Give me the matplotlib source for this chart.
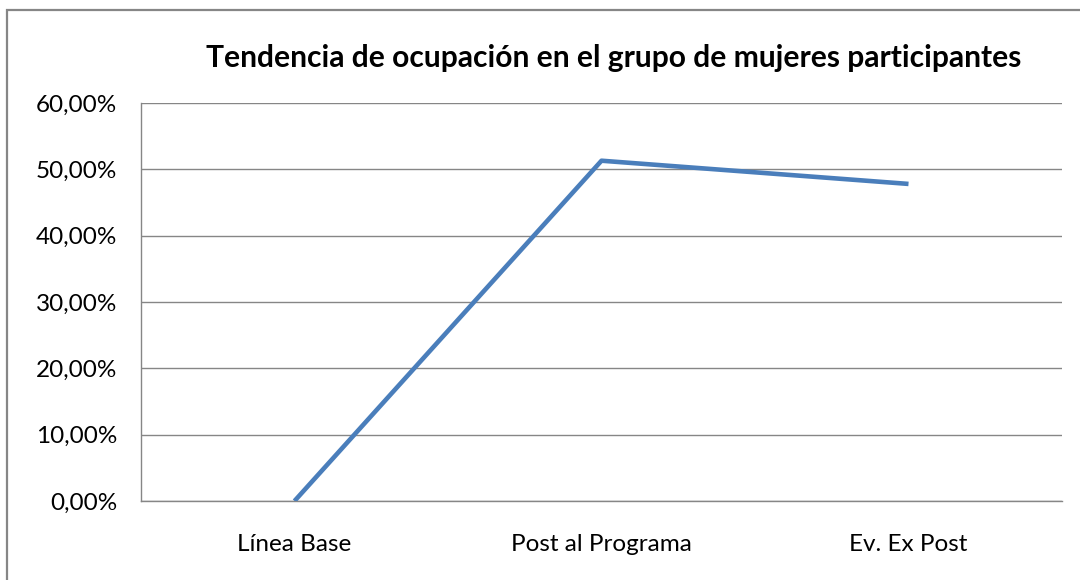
import matplotlib
matplotlib.use("Agg")
import matplotlib.pyplot as plt
from matplotlib.patches import Rectangle
from matplotlib.ticker import FuncFormatter

categories = ["Línea Base", "Post al Programa", "Ev. Ex Post"]
values = [0.0, 51.3, 47.8]
title = "Tendencia de ocupación en el grupo de mujeres participantes"

plt.rcParams['font.family'] = ['Lato', 'DejaVu Sans']

fig = plt.figure(figsize=(10.8, 5.8), dpi=100)
W, H = 1080, 580
ax = fig.add_axes([141 / W, 1 - 501 / H, (1062 - 141) / W, (501 - 103) / H])

x = list(range(len(categories)))
ax.plot(x, values, color="#4a7ebb", linewidth=3.3, solid_capstyle="butt", zorder=3)

ax.set_xlim(-0.5, len(categories) - 0.5)
ax.set_ylim(0, 60)
ax.set_yticks([0, 10, 20, 30, 40, 50, 60])
ax.yaxis.set_major_formatter(FuncFormatter(lambda v, p: f"{v:.2f}".replace(".", ",") + "%"))
ax.set_xticks(x)
ax.set_xticklabels(categories)
ax.grid(axis="y", color="#868686", linewidth=1.0, zorder=1)
ax.set_axisbelow(True)
for s in ["top", "right"]:
    ax.spines[s].set_visible(False)
for s in ["left", "bottom"]:
    ax.spines[s].set_color("#868686")
    ax.spines[s].set_linewidth(1.0)
ax.tick_params(axis="both", length=0, labelsize=17.5, colors="#000000")
ax.tick_params(axis="y", pad=17)
ax.tick_params(axis="x", pad=24)

fig.text(614 / W, 1 - 58 / H, title, ha="center", va="center", fontsize=21.6, fontweight="bold")

fig.patches.append(Rectangle((7 / W, -0.1), 1.2, 1 - 10 / H + 0.1, transform=fig.transFigure,
                             fill=False, edgecolor="#868686", linewidth=1.6))

fig.savefig("out.png", dpi=100)
